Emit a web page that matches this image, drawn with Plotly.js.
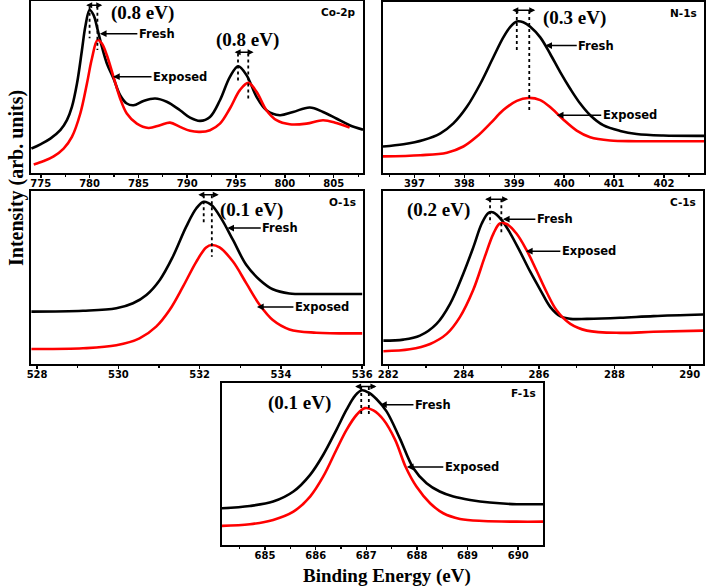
<!DOCTYPE html>
<html><head><meta charset="utf-8">
<script src="https://cdn.plot.ly/plotly-3.0.1.min.js"></script>
<style>html,body{margin:0;padding:0;background:#fff}#c{width:709px;height:587px}</style>
</head><body><div id="c"></div>
<script>
// ---------- data (binding energy in eV, intensity in arbitrary units) ----------
const coX_fresh = [774.04,774.96,775.98,777.0,777.68,778.19,778.71,779.22,779.56,780.0,780.41,780.75,781.26,781.77,782.45,783.13,783.81,784.5,785.52,786.71,787.9,789.26,790.29,791.31,792.33,793.35,794.37,795.22,796.07,797.1,798.11,799.48,800.84,802.55,803.91,805.27,806.63,808.0];
const coY_fresh = [14.2,16.7,20.0,24.9,30.7,38.4,52.0,71.5,85.0,94.8,91.8,85.0,73.4,63.7,55.0,45.2,40.4,39.4,41.9,43.3,41.4,36.5,32.2,30.3,32.6,42.3,55.9,62.1,56.9,44.3,36.5,33.6,35.5,38.1,35.5,31.7,27.8,25.2];
const coX_exp = [774.28,775.3,776.32,777.34,778.19,779.05,779.73,780.24,780.82,781.26,781.77,782.45,783.13,783.81,784.84,786.03,787.22,788.24,789.26,790.29,791.31,792.33,793.35,794.37,795.39,796.25,797.1,798.11,799.14,800.5,802.21,803.91,805.27,806.63];
const coY_exp = [5.0,7.0,9.7,14.2,21.0,34.6,52.0,66.6,77.3,75.3,68.5,55.9,43.3,34.6,28.7,26.2,27.8,29.3,26.8,24.5,23.9,24.9,28.7,37.5,48.2,52.4,47.2,36.5,30.7,28.3,28.7,30.7,29.1,26.4];

const nX_fresh = [396.37,396.78,397.18,397.52,397.78,398.05,398.32,398.58,398.78,398.92,399.05,399.18,399.32,399.52,399.72,399.92,400.12,400.32,400.52,400.78,401.12,401.45,401.98,402.8];
const nY_fresh = [15.5,16.8,19.3,23.2,29.0,38.7,52.2,67.7,79.3,85.5,88.6,88.2,85.5,79.3,69.6,59.0,49.3,40.6,33.8,28.0,24.6,22.8,21.9,21.7];
const nX_exp = [396.37,397.12,397.65,397.98,398.25,398.52,398.78,399.05,399.28,399.52,399.75,399.98,400.25,400.52,400.92,401.45,402.8];
const nY_exp = [9.7,10.4,11.9,15.5,21.3,29.0,36.8,42.2,43.9,42.6,37.7,31.3,24.8,20.9,19.0,18.6,18.6];

const oX_fresh = [527.86,529.13,529.95,530.36,530.69,531.02,531.34,531.67,531.92,532.1,532.29,532.53,532.82,533.15,533.48,533.8,534.21,534.87,536.0];
const oY_fresh = [30.3,30.8,32.2,35.1,39.9,48.6,62.0,79.4,90.0,93.8,91.9,84.2,71.7,57.2,48.6,43.2,40.8,40.5,40.5];
const oX_exp = [527.86,529.13,529.95,530.52,530.93,531.26,531.59,531.92,532.16,532.3,532.49,532.82,533.15,533.48,533.8,534.21,534.87,536.0];
const oY_exp = [8.7,9.1,10.8,14.8,21.6,31.2,44.7,59.2,67.4,68.8,67.4,59.2,46.6,34.1,25.4,20.0,18.1,17.7];

const cX_fresh = [281.87,282.4,282.84,283.28,283.64,283.99,284.26,284.48,284.66,284.79,285.01,285.24,285.5,285.77,286.04,286.3,286.57,286.83,287.27,288.15,289.04,290.36];
const cY_fresh = [13.5,14.1,16.4,23.2,34.8,52.2,67.7,81.2,87.4,87.6,83.2,75.4,64.8,53.2,42.6,32.9,27.5,26.1,26.1,26.7,27.7,28.6];
const cX_exp = [281.87,282.57,283.11,283.55,283.9,284.25,284.56,284.79,284.96,285.14,285.4,285.67,285.93,286.2,286.47,286.83,287.27,288.15,289.04,290.36];
const cY_exp = [7.4,8.5,11.6,17.4,27.1,42.6,61.9,75.4,81.2,80.9,75.4,65.8,54.2,41.6,30.9,23.2,19.3,18.0,18.6,19.3];

const fX_fresh = [684.14,684.7,685.16,685.56,685.89,686.15,686.41,686.61,686.78,686.91,687.04,687.2,687.4,687.66,687.93,688.19,688.45,688.72,689.05,689.44,689.97,690.49];
const fY_fresh = [22.7,24.1,26.8,33.0,43.3,55.7,71.1,83.5,92.2,95.5,94.2,90.1,82.5,66.0,47.4,38.1,33.0,29.9,27.8,26.2,25.2,25.2];
const fX_exp = [684.14,684.7,685.16,685.56,685.89,686.15,686.41,686.61,686.81,686.97,687.14,687.34,687.57,687.78,687.99,688.26,688.52,688.85,689.31,689.97,690.49];
const fY_exp = [11.8,12.8,15.5,20.6,29.9,42.3,58.8,71.1,80.4,84.5,83.1,77.3,64.9,48.0,36.1,25.8,19.6,16.1,14.8,14.4,14.4];

const panelNames = ['Co-2p','N-1s','O-1s','C-1s','F-1s'];
const shiftLabels = ['(0.8 eV)','(0.8 eV)','(0.3 eV)','(0.1 eV)','(0.2 eV)','(0.1 eV)'];
const seriesNames = ['Fresh','Exposed'];
const xRanges = [[774.0,808.0],[396.37,402.8],[527.85,536.02],[281.86,290.35],[684.15,690.49]];
const xDticks = [5,1,2,2,1];
const xTick0 = [775,397,528,282,685];

// ---------- traces ----------
const sets = [
  [coX_fresh,coY_fresh,coX_exp,coY_exp],
  [nX_fresh,nY_fresh,nX_exp,nY_exp],
  [oX_fresh,oY_fresh,oX_exp,oY_exp],
  [cX_fresh,cY_fresh,cX_exp,cY_exp],
  [fX_fresh,fY_fresh,fX_exp,fY_exp]
];
const traces = [];
sets.forEach((s,i)=>{
  const xa = i===0?'x':'x'+(i+1), ya = i===0?'y':'y'+(i+1);
  traces.push({x:s[0],y:s[1],xaxis:xa,yaxis:ya,mode:'lines',name:seriesNames[0],line:{color:'#000',width:2.6,shape:'spline',smoothing:1},hoverinfo:'skip'});
  traces.push({x:s[2],y:s[3],xaxis:xa,yaxis:ya,mode:'lines',name:seriesNames[1],line:{color:'#ff0000',width:2.6,shape:'spline',smoothing:1},hoverinfo:'skip'});
});

// ---------- layout ----------
const W=709,H=587;
const boxes = [ // left, right, top, bottom in px
  [31,363,1,173],[383,704,2,173],[31,363,191,364],[383,703,191,364],[222,543,383,545]
];
const layout = {width:W,height:H,margin:{l:0,r:0,t:0,b:0},paper_bgcolor:'#fff',plot_bgcolor:'#fff',showlegend:false,annotations:[],shapes:[]};
const tickFont = {family:'DejaVu Sans, Arial, sans-serif',size:10,color:'#000',weight:'bold'};
boxes.forEach((b,i)=>{
  const k = i===0?'':(i+1);
  layout['xaxis'+k] = {domain:[b[0]/W,b[1]/W],anchor:'y'+k,range:xRanges[i],showline:true,mirror:true,linecolor:'#000',linewidth:1.6,
    ticks:'outside',ticklen:3,tickwidth:1.5,tickcolor:'#000',dtick:xDticks[i],tick0:xTick0[i],tickfont:tickFont,ticklabelstandoff:-3,showgrid:false,zeroline:false,
    minor:{ticks:'outside',ticklen:2,tickwidth:1.2,tickcolor:'#000',dtick:xDticks[i]/2,showgrid:false}};
  layout['yaxis'+k] = {domain:[1-b[3]/H,1-b[2]/H],anchor:'x'+k,range:[0,100],showline:true,mirror:true,linecolor:'#000',linewidth:1.6,
    ticks:'',showticklabels:false,showgrid:false,zeroline:false};
  layout.annotations.push({xref:'x'+(k||'')+' domain',yref:'y'+(k||'')+' domain',x:0.985,y:0.985,xanchor:'right',yanchor:'top',showarrow:false,
    text:panelNames[i],font:{family:'DejaVu Sans, Arial, sans-serif',size:10.5,color:'#000',weight:'bold'}});
});

const serif = {family:'Liberation Serif, Times New Roman, serif',size:19,color:'#000',weight:'bold'};
const lab = {family:'DejaVu Sans, Arial, sans-serif',size:11.5,color:'#000',weight:'bold'};
function ax(i){return i===0?'x':'x'+(i+1);} function ay(i){return i===0?'y':'y'+(i+1);}
function txt(i,x,y,t){layout.annotations.push({xref:ax(i),yref:ay(i),x:x,y:y,text:t,showarrow:false,font:serif,xanchor:'center',yanchor:'middle'});}
function arrowLab(i,x,y,off,t){layout.annotations.push({xref:ax(i),yref:ay(i),x:x,y:y,ax:off,ay:0,text:t,showarrow:true,arrowhead:2,arrowsize:0.9,arrowwidth:1.5,arrowcolor:'#000',standoff:0,font:lab});}
function dbl(i,x0,x1,y){layout.annotations.push({xref:ax(i),yref:ay(i),axref:ax(i),ayref:ay(i),x:x1,y:y,ax:x0,ay:y,text:'',showarrow:true,arrowside:'end+start',arrowhead:2,arrowsize:0.8,arrowwidth:1.5,arrowcolor:'#000'});}
function dot(i,x,y0,y1){layout.shapes.push({type:'line',xref:ax(i),yref:ay(i),x0:x,x1:x,y0:y0,y1:y1,line:{color:'#000',width:1.8,dash:'dot'}});}

// Co-2p
txt(0,785.4,93,shiftLabels[0]); txt(0,796.2,77.3,shiftLabels[1]);
arrowLab(0,781.05,81,57,seriesNames[0]); arrowLab(0,782.4,56,67,seriesNames[1]);
dot(0,780,96.7,78.3); dot(0,780.8,96.7,71.5); dbl(0,779.5,781.3,97.6);
dot(0,795.2,69.5,53.0); dot(0,796.25,69.5,43.3); dbl(0,794.7,796.8,70.2);
// N-1s
txt(1,400.21,90.7,shiftLabels[2]);
arrowLab(1,399.62,74.5,51,seriesNames[0]); arrowLab(1,399.85,33.8,73,seriesNames[1]);
dot(1,399.05,94.8,71.6); dot(1,399.3,94.8,35.8); dbl(1,398.93,399.42,95.2);
// O-1s
txt(2,533.28,89,shiftLabels[3]);
arrowLab(2,532.68,78.6,53,seriesNames[0]); arrowLab(2,533.41,33,65,seriesNames[1]);
dot(2,532.1,97.5,81.3); dot(2,532.3,97.5,62.0); dbl(2,531.93,532.47,97.8);
// C-1s
txt(3,283.32,89,shiftLabels[4]);
arrowLab(3,285.04,83.7,52,seriesNames[0]); arrowLab(3,285.65,65.2,63,seriesNames[1]);
dot(3,284.7,95.2,81.2); dot(3,285.0,95.2,74.5); dbl(3,284.53,285.18,95.2);
// F-1s
txt(4,685.69,87.8,shiftLabels[5]);
arrowLab(4,687.27,86.6,53,seriesNames[0]); arrowLab(4,687.8,48.2,65,seriesNames[1]);
dot(4,686.9,97.5,80.4); dot(4,687.05,97.5,80.4); dbl(4,686.75,687.2,97.8);

// axis titles
layout.annotations.push({xref:'paper',yref:'paper',x:16/W,y:1-178/H,text:'Intensity (arb. units)',textangle:-90,showarrow:false,
  font:{family:'Liberation Serif, Times New Roman, serif',size:20,color:'#000',weight:'bold'},xanchor:'center',yanchor:'middle'});
layout.annotations.push({xref:'paper',yref:'paper',x:387/W,y:1-576/H,text:'Binding Energy (eV)',showarrow:false,
  font:{family:'Liberation Serif, Times New Roman, serif',size:19,color:'#000',weight:'bold'},xanchor:'center',yanchor:'middle'});

Plotly.newPlot('c',traces,layout,{staticPlot:true,displayModeBar:false});
</script></body></html>
